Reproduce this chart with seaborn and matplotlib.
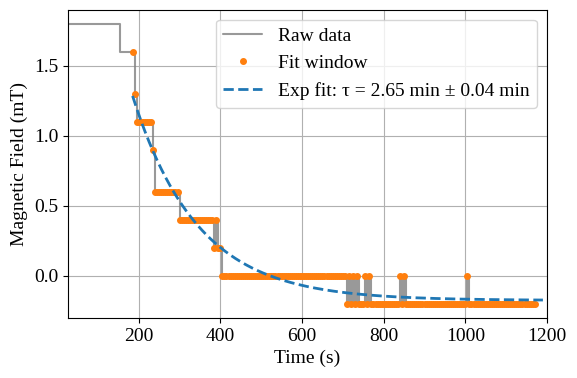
import numpy as np
import pandas as pd
import matplotlib
matplotlib.use("Agg")
import matplotlib.pyplot as plt
import seaborn as sns

# raw signal, sampled every 5 s: (time where a level starts, level in mT)
sample_dt = 5
change_times = [25, 155, 190, 195, 235, 240, 300, 385, 390, 395, 405,
                710, 715, 720, 725, 730, 735, 740, 755, 760, 765, 770,
                840, 845, 850, 855, 1005, 1010]
change_levels = [1.8, 1.6, 1.3, 1.1, 0.9, 0.6, 0.4, 0.2, 0.4, 0.2, 0.0,
                 -0.2, 0.0, -0.2, 0.0, -0.2, 0.0, -0.2, 0.0, -0.2, 0.0, -0.2,
                 0.0, -0.2, 0.0, -0.2, 0.0, -0.2]
end_time = 1175

# fit window and exponential fit result
fit_start = 185
fit_end_curve = 1190
tau_min = 2.65
tau_err_min = 0.04
fit_amp = 1.46
fit_offset = -0.175

# expand run-length steps into samples
times, values = [], []
bounds = change_times + [end_time]
for i, lvl in enumerate(change_levels):
    seg = np.arange(bounds[i], bounds[i + 1], sample_dt)
    times.extend(seg)
    values.extend([lvl] * len(seg))
raw = pd.DataFrame({"t": times, "B": values})
win = raw[raw["t"] >= fit_start]

t_fit = np.linspace(fit_start, fit_end_curve, 300)
b_fit = fit_amp * np.exp(-(t_fit - fit_start) / (tau_min * 60)) + fit_offset
fit = pd.DataFrame({"t": t_fit, "B": b_fit})

sns.set_style("ticks", {"axes.edgecolor": "black", "xtick.color": "black",
                        "ytick.color": "black", "text.color": "black",
                        "axes.labelcolor": "black"})
plt.rcParams["font.family"] = ["Liberation Serif", "DejaVu Serif"]
plt.rcParams["font.size"] = 14

fig, ax = plt.subplots(figsize=(5.77, 3.78), dpi=100)

sns.lineplot(data=raw, x="t", y="B", color="gray", alpha=0.8, lw=1.5,
             drawstyle="steps-post", label="Raw data", ax=ax)
ax.plot(win["t"], win["B"], "o", color="tab:orange", markersize=4,
        label="Fit window")
sns.lineplot(data=fit, x="t", y="B", color="tab:blue", lw=2, linestyle="--",
             label=f"Exp fit: τ = {tau_min:.2f} min ± {tau_err_min:.2f} min",
             ax=ax)

ax.set_xlim(raw["t"].min() + 2, 1200)
ax.grid(True, color="#b0b0b0", lw=0.8)
ax.set_xlabel("Time (s)")
ax.set_ylabel("Magnetic Field (mT)")
ax.legend(loc="upper right", fontsize=14, framealpha=0.8)

fig.subplots_adjust(left=0.118, right=0.948, top=0.974, bottom=0.159)
fig.savefig("out.png", dpi=100)
